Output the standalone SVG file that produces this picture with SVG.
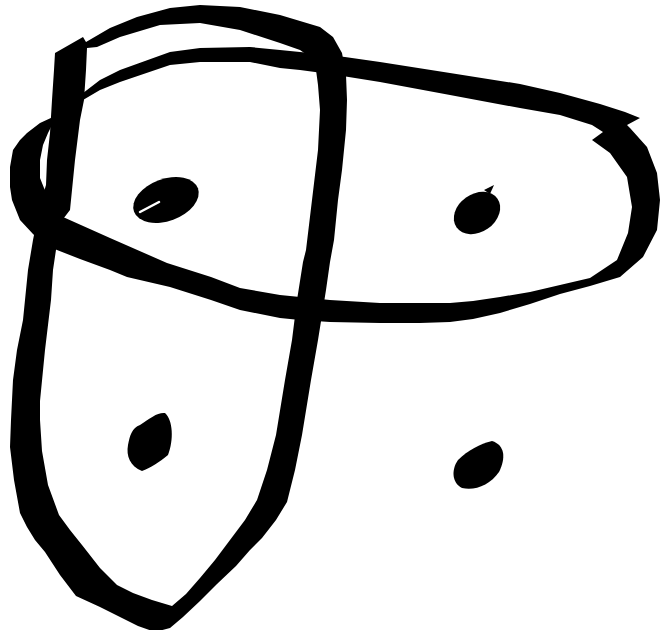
<svg xmlns="http://www.w3.org/2000/svg" width="662" height="630" viewBox="0 0 662 630">
<style>
.ink{fill:#000;fill-rule:evenodd;stroke:none}
.slit{stroke:#fff;stroke-width:2.5;stroke-linecap:round;fill:none}
</style>
<rect width="662" height="630" fill="#fff"/>
<g id="vertical-loop">
<path class="ink" d="M55,53 L83,37 L86,42 L110,28 L137,17 L170,8 L200,5 L240,7 L280,15 L320,27 L333,37 L342,53 L346,75 L347,100 L346,130 L342,170 L338,200 L334,240 L330,262 L326,290 L318,340 L311,380 L302,435 L295,470 L287,502 L276,520 L262,538 L250,550 L236,566 L217,584 L200,601 L183,617 L170,628 L155,632 L138,626 L120,617 L100,607 L76,596 L60,575 L45,552 L35,540 L27,527 L20,513 L14,480 L10,447 L11,420 L13,380 L17,350 L23,320 L28,270 L33,240 L40,205 L46,185 L47,160 L50,133 L52,100 L54,70 Z M87,48 L97,47 L120,37 L160,25 L200,23 L240,30 L280,43 L300,50 L310,57 L316,70 L318,85 L320,110 L318,150 L312,200 L306,250 L303,262 L297,300 L292,340 L285,380 L276,435 L267,470 L257,500 L245,520 L230,540 L215,560 L200,578 L186,594 L172,606 L152,600 L133,593 L117,585 L100,568 L82,545 L70,530 L59,515 L48,485 L42,451 L40,420 L40,401 L45,350 L51,300 L53,270 L60,223 L70,210 L75,160 L80,120 L84,100 L86,70 Z"/>
</g>
<g id="horizontal-loop">
<path class="ink" d="M53,117 L70,103 L87,90 L100,80 L120,70 L170,52 L200,48 L250,47 L280,50 L320,54 L345,57 L380,62 L450,73 L520,84 L560,93 L600,104 L625,112 L640,118 L627,125 L630,128 L647,147 L657,173 L660,200 L657,230 L643,257 L620,277 L590,286 L560,294 L530,304 L500,313 L473,319 L450,322 L420,323 L380,323 L330,322 L300,320 L280,318 L240,310 L211,300 L170,287 L127,277 L110,270 L80,259 L57,250 L45,245 L33,234 L20,220 L12,200 L10,187 L10,167 L13,150 L20,140 L27,133 L40,123 Z M83,100 L100,90 L120,82 L170,65 L200,62 L250,62 L280,68 L300,70 L330,74 L380,82 L450,95 L520,108 L560,115 L592,125 L603,132 L592,140 L610,153 L627,177 L632,207 L628,233 L617,260 L590,278 L560,285 L530,292 L500,297 L473,301 L450,303 L420,303 L380,303 L330,300 L300,297 L280,295 L240,288 L211,277 L167,263 L110,238 L63,217 L50,200 L44,188 L40,178 L40,160 L43,145 L48,133 L52,125 Z"/>
</g>
<g id="dot-top-left">
<ellipse class="ink" cx="166" cy="200" rx="34" ry="21" transform="rotate(-20 166 200)"/>
<line class="slit" x1="140" y1="212" x2="159" y2="202"/>
</g>
<g id="dot-top-right">
<ellipse class="ink" cx="477" cy="213" rx="25" ry="19" transform="rotate(-35 477 213)"/>
<path class="ink" d="M484,190 L494,185 L490,194 Z"/>
</g>
<g id="dot-bottom-left">
<path class="ink" d="M165,413 C173,420 174,440 168,455 C160,462 150,468 142,471 C130,466 126,456 128,445 C130,435 132,428 140,425 C150,418 158,412 165,413 Z"/>
</g>
<g id="dot-bottom-right">
<path class="ink" d="M492,441 C505,445 506,458 499,472 C490,485 475,491 462,488 C452,483 451,470 458,460 C468,450 480,444 492,441 Z"/>
</g>
</svg>
